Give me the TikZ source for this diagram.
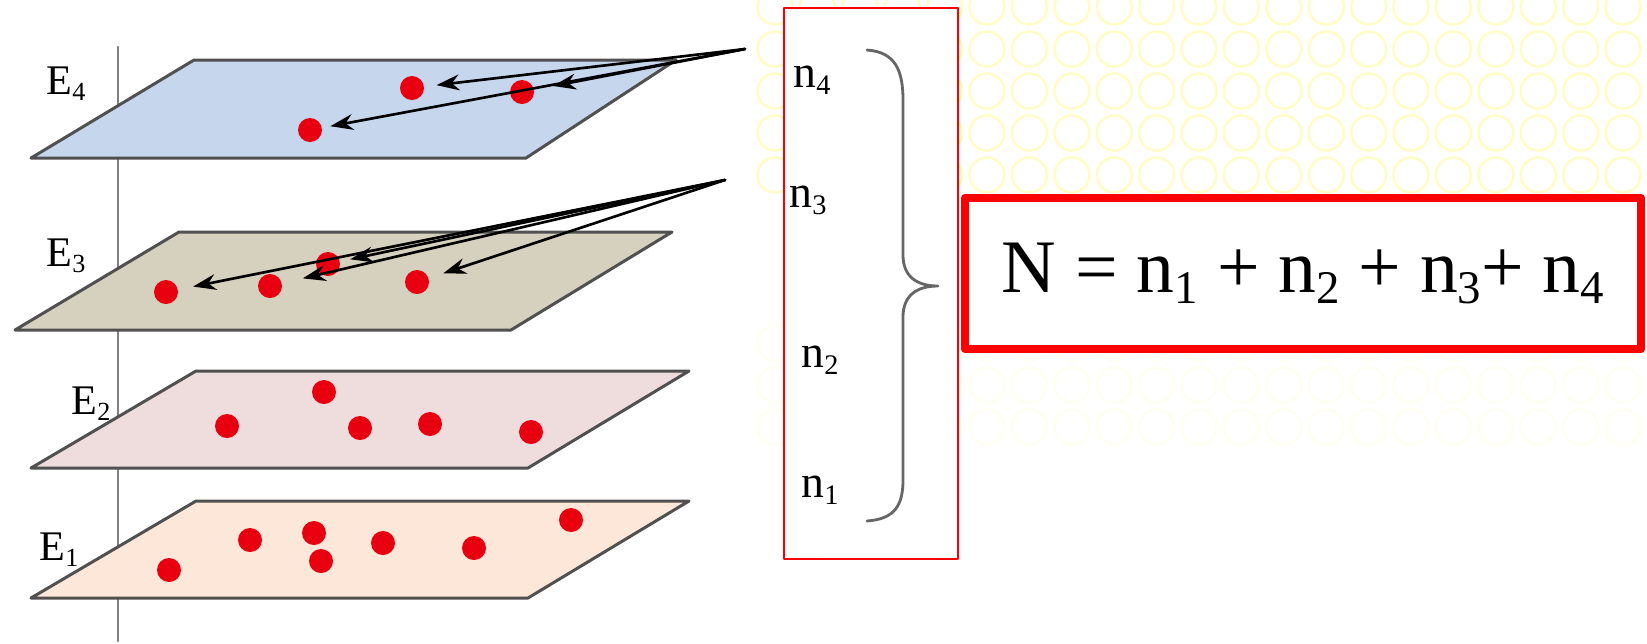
\documentclass[tikz,border=0pt]{standalone}
\usepackage{fontspec}
\setmainfont{Liberation Serif}
\usepackage{graphicx}
\usetikzlibrary{arrows.meta}

\definecolor{layerIV}{HTML}{C6D6EC}
\definecolor{layerIII}{HTML}{D6D0BF}
\definecolor{layerII}{HTML}{EFDCDC}
\definecolor{layerI}{HTML}{FCE7D8}
\definecolor{planeedge}{HTML}{505050}
\definecolor{dotred}{HTML}{E80010}

\newcommand{\lowidx}[1]{\raisebox{-0.15em}{\scalebox{0.62}{#1}}}

\tikzset{
	plane/.style={draw=planeedge, line width=0.85pt},
	dot/.style={circle, fill=dotred, inner sep=0pt, minimum size=0.24cm},
	pil/.style={->, black, line width=0.75pt},
	lvl/.style={font=\fontsize{12}{14}\selectfont, inner sep=0pt},
	cnt/.style={font=\fontsize{13}{15}\selectfont, inner sep=0pt},
	ring/.style={yellow!22, line width=0.75pt},
	ringfaint/.style={yellow!5, line width=0.75pt}
}

\begin{document}
\begin{tikzpicture}[
	line join=round,
	line cap=round,
	>={Stealth[length=6.5pt,width=4.5pt]}
	]
	
	\useasboundingbox (0,0) rectangle (16.47,-6.43);
	
	% Nền hoa văn
	\begin{scope}
		\clip (7.55,0) rectangle (16.47,-4.6);
		\foreach \i in {0,...,21}{
			\foreach \j in {0,...,4}{
				\draw[ring] ({7.75+0.424*\i},{-0.07-0.42*\j}) circle (0.175);
			}
			\foreach \j in {8,...,10}{
				\draw[ringfaint] ({7.75+0.424*\i},{-0.07-0.42*\j}) circle (0.175);
			}
		}
	\end{scope}
	
	% Trục năng lượng
	\draw[gray, line width=0.7pt] (1.18,-0.47) -- (1.18,-6.41);
	
	% Các mức
	\draw[plane, fill=layerIV] (1.94,-0.60) -- (6.76,-0.60) -- (5.26,-1.58) -- (0.31,-1.58) -- cycle;
	\draw[plane, fill=layerIII] (1.79,-2.32) -- (6.72,-2.32) -- (5.11,-3.30) -- (0.15,-3.30) -- cycle;
	\draw[plane, fill=layerII] (1.96,-3.71) -- (6.89,-3.71) -- (5.28,-4.68) -- (0.31,-4.68) -- cycle;
	\draw[plane, fill=layerI] (1.96,-5.01) -- (6.89,-5.01) -- (5.28,-5.98) -- (0.31,-5.98) -- cycle;
	
	\node[lvl] (lE4) at (0.66,-0.84) {E\lowidx{4}};
	\node[lvl] (lE3) at (0.66,-2.56) {E\lowidx{3}};
	\node[lvl] (lE2) at (0.91,-4.04) {E\lowidx{2}};
	\node[lvl] (lE1) at (0.59,-5.50) {E\lowidx{1}};
	
	% Các hạt
	\foreach \n/\x/\y in {1/4.12/-0.88, 2/5.22/-0.92, 3/3.10/-1.30}{
		\node[dot] (p4\n) at (\x,\y) {};
	}
	\foreach \n/\x/\y in {1/1.66/-2.92, 2/2.70/-2.86, 3/3.28/-2.64, 4/4.17/-2.82}{
		\node[dot] (p3\n) at (\x,\y) {};
	}
	\foreach \n/\x/\y in {1/2.27/-4.26, 2/3.24/-3.92, 3/3.60/-4.28, 4/4.30/-4.24, 5/5.31/-4.32}{
		\node[dot] (p2\n) at (\x,\y) {};
	}
	\foreach \n/\x/\y in {1/1.69/-5.70, 2/2.50/-5.40, 3/3.14/-5.33, 4/3.21/-5.61, 5/3.83/-5.43, 6/4.74/-5.48, 7/5.71/-5.20}{
		\node[dot] (p1\n) at (\x,\y) {};
	}
	
	% Các hạt tới
	\coordinate (src4) at (7.45,-0.49);
	\coordinate (src3) at (7.25,-1.80);
	\foreach \n/\gap in {1/0.12, 2/0.19, 3/0.08}{
		\draw[pil, shorten >=\gap cm] (src4) -- (p4\n);
	}
	\foreach \n/\gap in {1/0.15, 2/0.21, 3/0.10, 4/0.15}{
		\draw[pil, shorten >=\gap cm] (src3) -- (p3\n);
	}
	
	% Khung số hạt
	\node[draw=red, fill=white, line width=0.7pt, minimum width=1.74cm, minimum height=5.51cm, inner sep=0pt] (nframe) at (8.71,-2.835) {};
	\node[cnt] (n4) at (8.12,-0.80) {n\lowidx{4}};
	\node[cnt] (n3) at (8.08,-2.00) {n\lowidx{3}};
	\node[cnt] (n2) at (8.20,-3.60) {n\lowidx{2}};
	\node[cnt] (n1) at (8.20,-4.90) {n\lowidx{1}};
	
	% Ngoặc
	\draw[gray!80!black, line width=0.8pt] (8.67,-0.50) .. controls (8.95,-0.52) and (9.03,-0.70) .. (9.03,-1.00)
		-- (9.03,-2.55) .. controls (9.03,-2.75) and (9.15,-2.86) .. (9.38,-2.86)
		.. controls (9.15,-2.86) and (9.03,-2.97) .. (9.03,-3.17)
		-- (9.03,-4.80) .. controls (9.03,-5.05) and (8.95,-5.19) .. (8.67,-5.21);
	
	% Tổng số hạt
	\node[draw=red, fill=white, line width=0.085cm, minimum width=6.76cm, minimum height=1.51cm, inner sep=0pt,
		font=\fontsize{21.5}{24}\selectfont] (sum) at (13.03,-2.735)
		{N = n\lowidx{1} + n\lowidx{2} + n\lowidx{3}+ n\lowidx{4}};
	
\end{tikzpicture}
\end{document}
